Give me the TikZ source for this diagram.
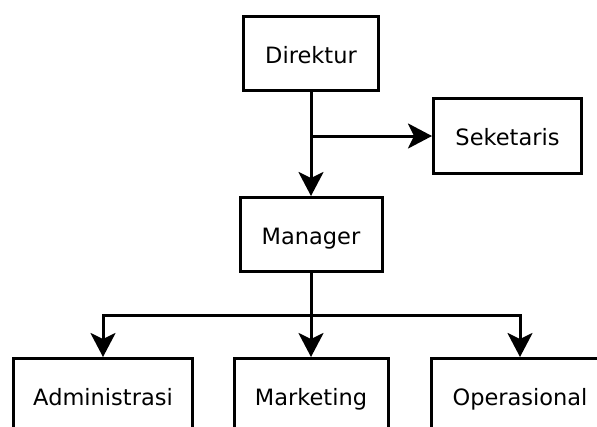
\documentclass[tikz,border=0pt]{standalone}
\usepackage{fontspec}
\setmainfont{DejaVu Sans}
\usetikzlibrary{arrows.meta,positioning}
\begin{document}
\begin{tikzpicture}[x=1pt,y=-1pt,
	jabatan/.style={draw, line width=3pt, minimum height=74pt, inner sep=0pt,
		text height=19pt, text depth=0pt, font=\fontsize{22.5}{26}\selectfont},
	panah/.style={line width=3pt, -{Stealth[length=24pt,width=25pt,inset=6pt]}},
	garis/.style={line width=3pt}]
\useasboundingbox (0,0) rectangle (597,426);
\clip (0,0) rectangle (597,426);

% The boxes
\node[jabatan, minimum width=135pt] (direktur) at (311,53.5) {Direktur};
\node[jabatan, minimum width=148pt, minimum height=75pt] (seketaris) at (507.5,136) {Seketaris};
\node[jabatan, minimum width=142pt] (manager) at (311,234.5) {Manager};
\node[jabatan, minimum width=179pt] (administrasi) at (103,395.5) {Administrasi};
\node[jabatan, minimum width=154pt] (marketing) at (311,395.5) {Marketing};
\node[jabatan, minimum width=177pt] (operasional) at (520,395.5) {Operasional};

% The branch points
\coordinate (cabang1) at (311,136);
\coordinate (cabang2) at (311,315);

\draw[panah] (direktur.south) -- (manager.north);
\draw[panah] (cabang1) -- (seketaris.west);

\draw[garis] (manager.south) -- (cabang2);
\foreach \bagian in {administrasi,marketing,operasional}{
\draw[panah] (cabang2) -| (\bagian.north);
}

\end{tikzpicture}
\end{document}
